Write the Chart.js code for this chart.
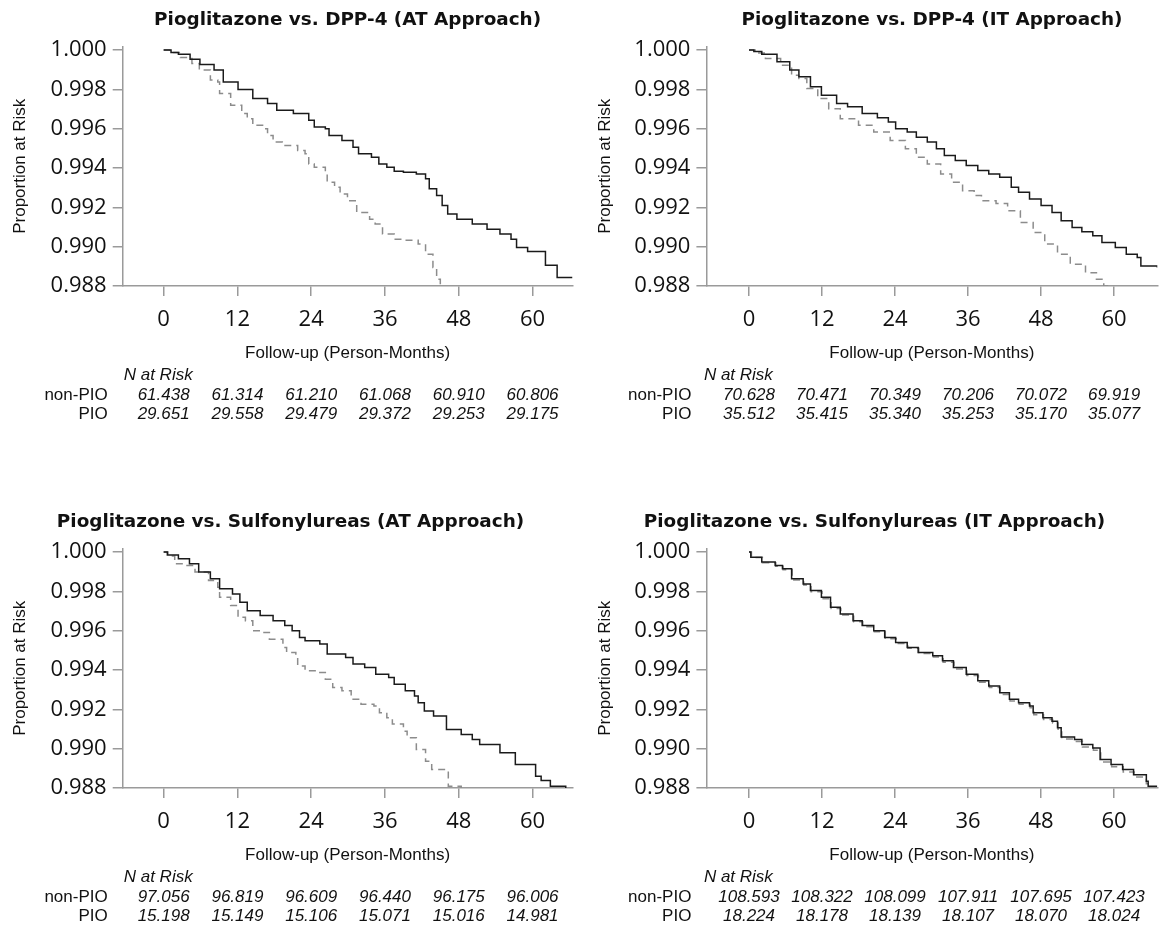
<!DOCTYPE html>
<html>
<head>
<meta charset="utf-8">
<script src="https://cdn.jsdelivr.net/npm/chart.js@4.4.1/dist/chart.umd.min.js"></script>
<style>
  body { margin: 0; background: #fff; width: 1163px; height: 932px; overflow: hidden; position: relative; }
  canvas { position: absolute; }
</style>
</head>
<body>
<canvas id="dppAT" width="580" height="432" style="left:0px;top:0px"></canvas>
<canvas id="dppIT" width="583" height="432" style="left:580px;top:0px"></canvas>
<canvas id="suAT" width="580" height="430" style="left:0px;top:502px"></canvas>
<canvas id="suIT" width="583" height="430" style="left:580px;top:502px"></canvas>
<script>
// ticks
var months = [0, 12, 24, 36, 48, 60];
var yTicks = [0.988, 0.990, 0.992, 0.994, 0.996, 0.998, 1.000];
var rowLabels = ['non-PIO', 'PIO'];

var titles = [
    'Pioglitazone vs. DPP-4 (AT Approach)',
    'Pioglitazone vs. DPP-4 (IT Approach)',
    'Pioglitazone vs. Sulfonylureas (AT Approach)',
    'Pioglitazone vs. Sulfonylureas (IT Approach)'
];

// N at risk
var riskDppAtNon = ['61.438', '61.314', '61.210', '61.068', '60.910', '60.806'];
var riskDppAtPio = ['29.651', '29.558', '29.479', '29.372', '29.253', '29.175'];
var riskDppItNon = ['70.628', '70.471', '70.349', '70.206', '70.072', '69.919'];
var riskDppItPio = ['35.512', '35.415', '35.340', '35.253', '35.170', '35.077'];
var riskSuAtNon = ['97.056', '96.819', '96.609', '96.440', '96.175', '96.006'];
var riskSuAtPio = ['15.198', '15.149', '15.106', '15.071', '15.016', '14.981'];
var riskSuItNon = ['108.593', '108.322', '108.099', '107.911', '107.695', '107.423'];
var riskSuItPio = ['18.224', '18.178', '18.139', '18.107', '18.070', '18.024'];

// curves: [month, proportion]
var dppAtNon = [[0, 1.0], [1.2, 0.99988], [2.4, 0.99978], [4.3, 0.99953], [5.9, 0.99927], [8.2, 0.99898], [9.7, 0.99838], [12.1, 0.99799], [14.5, 0.99753], [16.9, 0.99728], [18.4, 0.99694], [21.1, 0.99677], [23.6, 0.99643], [24.5, 0.99609], [26.3, 0.996], [26.9, 0.99566], [29.0, 0.9954], [30.8, 0.99506], [31.7, 0.99472], [33.8, 0.99455], [35.0, 0.99421], [36.3, 0.99404], [37.5, 0.99384], [39.0, 0.99379], [41.1, 0.9937], [42.6, 0.99345], [43.2, 0.99294], [44.4, 0.9926], [45.3, 0.99209], [46.2, 0.99166], [47.7, 0.9914], [50.2, 0.99115], [52.6, 0.99089], [54.7, 0.99064], [56.5, 0.99038], [57.4, 0.98996], [59.2, 0.98975], [62.1, 0.98906], [64.0, 0.98843], [66.5, 0.98843]];
var dppAtPio = [[0, 1.0], [1.0, 0.99987], [2.7, 0.99962], [4.6, 0.99932], [5.8, 0.99898], [7.6, 0.99847], [8.8, 0.99838], [9.1, 0.99779], [10.9, 0.99719], [12.7, 0.99677], [13.6, 0.99651], [14.5, 0.99617], [16.3, 0.996], [16.9, 0.99566], [17.8, 0.99532], [19.3, 0.99515], [21.8, 0.99489], [23.0, 0.99472], [23.6, 0.99421], [24.5, 0.99404], [26.3, 0.9937], [26.6, 0.99328], [27.8, 0.99302], [28.7, 0.99268], [29.9, 0.99234], [31.4, 0.99174], [33.5, 0.9914], [34.4, 0.99115], [35.6, 0.99064], [37.5, 0.99038], [39.0, 0.99033], [41.4, 0.99013], [42.6, 0.98962], [43.8, 0.98894], [44.4, 0.98834], [45.0, 0.9878]];
var dppItNon = [[0, 1.0], [0.8, 0.99992], [2.1, 0.99978], [4.6, 0.9994], [6.7, 0.99898], [8.2, 0.99864], [10.1, 0.99813], [11.9, 0.9977], [14.4, 0.99728], [16.2, 0.99711], [18.6, 0.99677], [21.1, 0.99656], [22.9, 0.99634], [24.1, 0.996], [26.0, 0.99583], [27.5, 0.99557], [29.3, 0.99532], [30.8, 0.99498], [32.1, 0.99464], [33.9, 0.99438], [35.7, 0.99413], [37.6, 0.99387], [39.4, 0.9937], [41.2, 0.99353], [43.1, 0.99302], [44.3, 0.99277], [46.1, 0.99243], [48.0, 0.99209], [49.8, 0.99174], [51.3, 0.99132], [53.1, 0.99098], [54.7, 0.99076], [56.5, 0.99055], [58.0, 0.99021], [60.2, 0.98996], [62.0, 0.98962], [63.8, 0.98945], [64.4, 0.98902], [67.1, 0.98894]];
var dppItPio = [[0, 1.0], [1.0, 0.99985], [2.7, 0.99957], [5.2, 0.99923], [7.0, 0.99872], [8.2, 0.99855], [9.5, 0.99804], [11.3, 0.99753], [13.1, 0.99702], [15.0, 0.99651], [18.0, 0.99617], [20.5, 0.99583], [23.2, 0.9954], [25.7, 0.99498], [27.5, 0.99455], [29.3, 0.99421], [31.5, 0.9937], [33.3, 0.99328], [35.1, 0.99285], [37.0, 0.9926], [38.2, 0.99234], [40.6, 0.9922], [42.5, 0.99183], [44.6, 0.99123], [46.7, 0.99072], [48.6, 0.99013], [50.7, 0.98962], [52.8, 0.98911], [55.3, 0.98868], [57.1, 0.98834], [58.3, 0.988], [58.9, 0.98775]];
var suAtNon = [[0, 1.0], [0.6, 0.99985], [2.4, 0.99966], [4.2, 0.9994], [5.7, 0.99898], [7.6, 0.99864], [9.1, 0.99813], [11.2, 0.99787], [12.4, 0.99745], [13.6, 0.99702], [15.7, 0.99677], [17.8, 0.99651], [19.7, 0.99626], [20.9, 0.996], [22.1, 0.99566], [23.0, 0.99549], [25.4, 0.99532], [26.6, 0.99481], [29.6, 0.99464], [30.8, 0.9943], [32.7, 0.99413], [34.5, 0.99379], [36.6, 0.99362], [37.5, 0.99328], [39.3, 0.99294], [40.8, 0.99268], [41.4, 0.99234], [42.4, 0.99191], [43.9, 0.99166], [46.0, 0.99098], [48.4, 0.99072], [50.2, 0.99047], [51.4, 0.99021], [54.7, 0.98979], [57.2, 0.98919], [60.5, 0.9886], [61.4, 0.98838], [62.9, 0.98809], [65.4, 0.98795], [65.5, 0.98795]];
var suAtPio = [[0, 1.0], [0.7, 0.9998], [1.8, 0.9994], [3.6, 0.99932], [5.1, 0.99898], [7.3, 0.99855], [8.8, 0.99821], [9.1, 0.9977], [10.9, 0.99728], [12.1, 0.99668], [13.3, 0.99651], [14.5, 0.996], [15.7, 0.99591], [17.2, 0.99557], [19.4, 0.99515], [20.0, 0.99489], [21.5, 0.99464], [21.8, 0.99421], [23.0, 0.99396], [25.1, 0.99387], [26.3, 0.99353], [27.5, 0.99311], [29.0, 0.99294], [30.5, 0.99251], [32.1, 0.99226], [34.2, 0.99217], [35.1, 0.99183], [36.3, 0.99157], [37.2, 0.99126], [39.0, 0.99089], [39.6, 0.99055], [41.1, 0.98996], [42.6, 0.98936], [43.6, 0.98894], [46.3, 0.98809], [48.4, 0.98797]];
var suItNon = [[0, 1.0], [0.3, 0.99974], [2.1, 0.99949], [4.3, 0.99932], [5.5, 0.99915], [7.0, 0.99864], [8.9, 0.99838], [10.1, 0.99804], [11.9, 0.9977], [13.4, 0.99719], [15.0, 0.99685], [17.1, 0.99651], [18.6, 0.99626], [20.5, 0.996], [22.3, 0.99566], [24.1, 0.9954], [26.0, 0.99515], [27.8, 0.99489], [30.2, 0.99472], [31.8, 0.99447], [33.6, 0.99413], [35.7, 0.99379], [37.6, 0.99345], [39.4, 0.99319], [41.2, 0.99285], [42.8, 0.99251], [44.3, 0.99234], [46.1, 0.99217], [46.7, 0.99183], [48.3, 0.99157], [49.8, 0.9914], [50.7, 0.99106], [51.3, 0.99059], [53.5, 0.99047], [54.7, 0.99021], [56.5, 0.99004], [57.7, 0.98945], [59.5, 0.9892], [61.4, 0.98894], [63.2, 0.98868], [65.3, 0.98834], [65.6, 0.98809], [67.1, 0.98809]];
var suItPio = [[0, 1.0], [0.4, 0.99972], [2.2, 0.99946], [4.4, 0.99928], [5.6, 0.9991], [7.1, 0.99858], [9.0, 0.99832], [10.2, 0.99798], [12.0, 0.99763], [13.5, 0.99713], [15.1, 0.9968], [17.2, 0.99645], [18.7, 0.9962], [20.6, 0.99594], [22.4, 0.99559], [24.2, 0.99535], [26.1, 0.99511], [27.9, 0.99484], [30.3, 0.99466], [31.9, 0.9944], [33.7, 0.99405], [35.8, 0.99372], [37.7, 0.99338], [39.5, 0.99311], [41.3, 0.99276], [42.9, 0.99242], [44.4, 0.99226], [46.2, 0.99208], [46.8, 0.99173], [48.4, 0.99148], [49.9, 0.9913], [50.8, 0.99095], [51.4, 0.99049], [53.6, 0.99037], [54.8, 0.99008], [56.6, 0.98992], [57.8, 0.98932], [59.6, 0.98908], [61.5, 0.98882], [63.3, 0.98856], [65.3, 0.98822], [65.7, 0.98799], [67.1, 0.98799]];

var AXIS_GREY = '#9a9a9a';
var TEXT = '#111111';

// panel title + "N at Risk" block, lined up on the x ticks
var panelText = {
    id: 'panelText',
    afterDraw: function (chart, args, opts) {
        var ctx = chart.ctx;
        var xs = chart.scales.x;
        var left = chart.chartArea.left;
        var y0 = xs.bottom + 5;
        ctx.save();
        ctx.fillStyle = TEXT;
        ctx.textBaseline = 'middle';

        ctx.font = 'bold 18.4px "DejaVu Sans"';
        ctx.textAlign = 'center';
        ctx.fillText(opts.title, opts.titleX, 20);

        ctx.font = 'italic 17px "Liberation Sans"';
        ctx.textAlign = 'left';
        ctx.fillText('N at Risk', left + opts.nShift, y0);
        ctx.font = '17px "Liberation Sans"';
        ctx.textAlign = 'right';
        ctx.fillText(rowLabels[0], left - 15, y0 + 20);
        ctx.fillText(rowLabels[1], left - 15, y0 + 39.5);
        ctx.font = 'italic 17px "Liberation Sans"';
        ctx.textAlign = 'center';
        months.forEach(function (m, i) {
            var px = xs.getPixelForValue(m);
            ctx.fillText(opts.nonPio[i], px, y0 + 20);
            ctx.fillText(opts.pio[i], px, y0 + 39.5);
        });
        ctx.restore();
    }
};

function toXY(pairs) {
    return pairs.map(function (p) { return { x: p[0], y: p[1] }; });
}

function drawPanel(id, title, nonPio, pio, riskNon, riskPio, geo) {
    new Chart(document.getElementById(id), {
        type: 'line',
        data: {
            datasets: [
                {
                    label: 'non-PIO',
                    data: toXY(nonPio),
                    borderColor: '#1a1a1a',
                    borderWidth: 1.5,
                    stepped: 'before',
                    pointRadius: 0,
                    fill: false,
                    clip: 0
                },
                {
                    label: 'PIO',
                    data: toXY(pio),
                    borderColor: '#8c8c8c',
                    borderWidth: 1.5,
                    borderDash: [7, 5],
                    stepped: 'before',
                    pointRadius: 0,
                    fill: false,
                    clip: 0
                }
            ]
        },
        options: {
            responsive: false,
            animation: false,
            devicePixelRatio: 1,
            layout: { padding: { left: 0, right: geo.padRight, top: 46.5, bottom: geo.padBottom } },
            plugins: {
                legend: { display: false },
                tooltip: { enabled: false },
                title: { display: false },
                panelText: { title: title, titleX: geo.titleX, nonPio: riskNon, pio: riskPio, nShift: geo.nShift }
            },
            scales: {
                x: {
                    type: 'linear',
                    min: geo.xMin,
                    max: geo.xMax,
                    afterBuildTicks: function (s) { s.ticks = months.map(function (v) { return { value: v }; }); },
                    afterFit: function (s) { s.height = 84; },
                    border: { display: true, color: AXIS_GREY, width: 1.5 },
                    grid: { display: true, drawOnChartArea: false, drawTicks: true, tickLength: 10, color: AXIS_GREY, lineWidth: 1.5 },
                    ticks: { color: TEXT, padding: 10.8, maxRotation: 0, font: { family: 'Open Sans', size: 22 } },
                    title: {
                        display: true,
                        text: 'Follow-up (Person-Months)',
                        color: TEXT,
                        font: { family: 'Liberation Sans', size: 17 },
                        padding: { top: 0, bottom: 6.8 }
                    }
                },
                y: {
                    min: 0.988,
                    max: 1.00018,
                    afterBuildTicks: function (s) { s.ticks = yTicks.map(function (v) { return { value: v }; }); },
                    afterFit: function (s) { s.width = geo.yWidth; },
                    border: { display: true, color: AXIS_GREY, width: 1.5 },
                    grid: { display: true, drawOnChartArea: false, drawTicks: true, tickLength: 10, color: AXIS_GREY, lineWidth: 1.5 },
                    ticks: {
                        color: TEXT,
                        padding: 6,
                        font: { family: 'Open Sans', size: 22 },
                        callback: function (v) { return Number(v).toFixed(3); }
                    },
                    title: {
                        display: true,
                        text: 'Proportion at Risk',
                        color: TEXT,
                        font: { family: 'Liberation Sans', size: 17 },
                        padding: { top: geo.yTitlePad, bottom: 0 }
                    }
                }
            }
        },
        plugins: [panelText]
    });
}

var leftGeo = { yWidth: 122.7, xMin: -6.66, xMax: 66.5, padRight: 7.5, padBottom: 62, yTitlePad: 10, nShift: 1, titleX: 347.6 };
var rightGeo = { yWidth: 126.4, xMin: -7.0, xMax: 67.1, padRight: 5.7, padBottom: 62, yTitlePad: 15, nShift: -2.5, titleX: 352 };
var leftGeoLow = Object.assign({}, leftGeo, { padBottom: 60, titleX: 290.5 });
var rightGeoLow = Object.assign({}, rightGeo, { padBottom: 60, titleX: 294.5 });

drawPanel('dppAT', titles[0], dppAtNon, dppAtPio, riskDppAtNon, riskDppAtPio, leftGeo);
drawPanel('dppIT', titles[1], dppItNon, dppItPio, riskDppItNon, riskDppItPio, rightGeo);
drawPanel('suAT', titles[2], suAtNon, suAtPio, riskSuAtNon, riskSuAtPio, leftGeoLow);
drawPanel('suIT', titles[3], suItNon, suItPio, riskSuItNon, riskSuItPio, rightGeoLow);
</script>
</body>
</html>
